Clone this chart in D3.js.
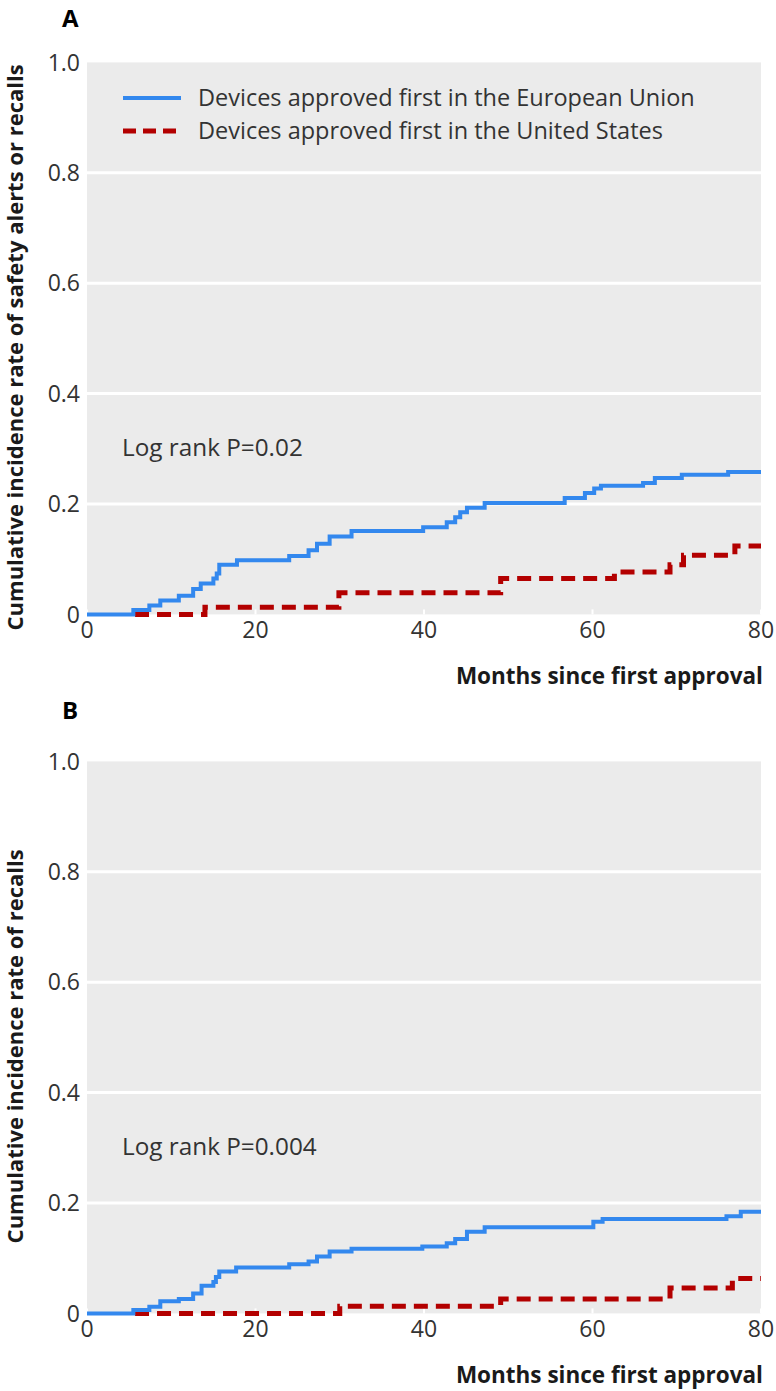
<!DOCTYPE html>
<html>
<head>
<meta charset="utf-8">
<script src="https://cdn.jsdelivr.net/npm/d3@7"></script>
<style>
  html, body { margin: 0; padding: 0; background: #ffffff; }
  svg { display: block; }
  text { font-family: "Open Sans", "Noto Sans", sans-serif; }
</style>
</head>
<body>
<svg id="chart" width="776" height="1391"></svg>
<script>
// ---------- data ----------
const xTicks = [0, 20, 40, 60, 80];
const yTicks = [0, 0.2, 0.4, 0.6, 0.8, 1.0];
const yTickLabels = ["0", "0.2", "0.4", "0.6", "0.8", "1.0"];
const seriesNames = ["Devices approved first in the European Union", "Devices approved first in the United States"];

// Panel A: safety alerts or recalls
const aEuMonths = [0, 5.5, 7.4, 8.7, 10.9, 12.6, 13.5, 15.0, 15.4, 15.7, 17.8, 24.0, 26.3, 27.3, 28.8, 31.4, 39.9, 42.7, 43.7, 44.3, 45.1, 47.2, 56.7, 59.1, 60.2, 61.0, 66.0, 67.4, 70.6, 76.1, 80];
const aEuRate   = [0, 0.008, 0.016, 0.025, 0.034, 0.046, 0.056, 0.065, 0.074, 0.090, 0.098, 0.106, 0.116, 0.128, 0.141, 0.151, 0.158, 0.167, 0.176, 0.185, 0.193, 0.202, 0.211, 0.220, 0.228, 0.233, 0.238, 0.247, 0.253, 0.258, 0.258];
const aUsMonths = [5.7, 14.0, 29.9, 49.1, 62.6, 69.2, 70.8, 76.9, 80];
const aUsRate   = [0, 0.013, 0.039, 0.065, 0.077, 0.090, 0.107, 0.124, 0.124];

// Panel B: recalls
const bEuMonths = [0, 5.5, 7.4, 8.7, 10.9, 12.6, 13.6, 15.0, 15.3, 15.7, 17.7, 24.0, 26.3, 27.3, 28.8, 31.4, 39.8, 42.7, 43.7, 45.1, 47.2, 60.1, 61.2, 75.9, 77.6, 80];
const bEuRate   = [0, 0.006, 0.012, 0.022, 0.026, 0.036, 0.050, 0.057, 0.066, 0.076, 0.083, 0.089, 0.094, 0.103, 0.112, 0.117, 0.121, 0.127, 0.135, 0.148, 0.156, 0.166, 0.171, 0.176, 0.184, 0.184];
const bUsMonths = [5.7, 30.0, 49.1, 69.2, 76.6, 80];
const bUsRate   = [0, 0.013, 0.026, 0.046, 0.063, 0.063];

const panels = [
  { letter: "A", yTitle: "Cumulative incidence rate of safety alerts or recalls", pText: "Log rank P=0.02",
    eu: [aEuMonths, aEuRate], us: [aUsMonths, aUsRate], top: 62.4, letterOff: 35, legend: true },
  { letter: "B", yTitle: "Cumulative incidence rate of recalls", pText: "Log rank P=0.004",
    eu: [bEuMonths, bEuRate], us: [bUsMonths, bUsRate], top: 761.4, letterOff: 42, legend: false }
];

// ---------- drawing ----------
const svg = d3.select("#chart");
const left = 87, right = 761, plotH = 552;
const blue = "#3388ee", red = "#b30000", bg = "#ebebeb", txt = "#333333";

const x = d3.scaleLinear().domain([0, 80]).range([left, right]);

panels.forEach(p => {
  const y = d3.scaleLinear().domain([0, 1]).range([p.top + plotH, p.top]);
  const g = svg.append("g");

  g.append("rect").attr("x", left).attr("y", p.top).attr("width", right - left).attr("height", plotH).attr("fill", bg);

  g.selectAll(".grid").data(yTicks.filter(v => v > 0 && v < 1)).join("line")
    .attr("x1", left).attr("x2", right)
    .attr("y1", d => y(d)).attr("y2", d => y(d))
    .attr("stroke", "#ffffff").attr("stroke-width", 3);

  g.selectAll(".xt").data(xTicks).join("line")
    .attr("x1", d => x(d)).attr("x2", d => x(d))
    .attr("y1", y(0)).attr("y2", y(0) - 5)
    .attr("stroke", "#ffffff").attr("stroke-width", 2);

  g.selectAll(".yl").data(yTicks).join("text")
    .attr("x", 80).attr("y", d => y(d)).attr("dy", "0.36em")
    .attr("text-anchor", "end").attr("font-size", 23).attr("fill", txt)
    .text((d, i) => yTickLabels[i]);

  g.selectAll(".xl").data(xTicks).join("text")
    .attr("x", d => x(d)).attr("y", y(0) + 24)
    .attr("text-anchor", "middle").attr("font-size", 23).attr("fill", txt)
    .text(d => d);

  g.append("text").attr("x", 763).attr("y", y(0) + 70)
    .attr("text-anchor", "end").attr("font-size", 22.5).attr("font-weight", "bold").attr("fill", "#1a1a1a")
    .text("Months since first approval");

  g.append("text")
    .attr("transform", `translate(23,${p.top + plotH / 2 + 9}) rotate(-90)`)
    .attr("text-anchor", "middle").attr("font-size", 22).attr("font-weight", "bold").attr("fill", "#1a1a1a")
    .text(p.yTitle);

  g.append("text").attr("x", 62).attr("y", p.top - p.letterOff)
    .attr("font-size", 24).attr("font-weight", "bold").attr("fill", "#000")
    .text(p.letter);

  g.append("text").attr("x", 122).attr("y", y(0.4) + 62)
    .attr("font-size", 24.3).attr("fill", txt).text(p.pText);

  const line = d3.line().curve(d3.curveStepAfter).x(d => x(d[0])).y(d => y(d[1]));
  const usData = p.us[0].map((m, i) => [m, p.us[1][i]]);
  const euData = p.eu[0].map((m, i) => [m, p.eu[1][i]]);

  g.append("path").attr("d", line(usData)).attr("fill", "none")
    .attr("stroke", red).attr("stroke-width", 5).attr("stroke-dasharray", "14,8");
  g.append("path").attr("d", line(euData)).attr("fill", "none")
    .attr("stroke", blue).attr("stroke-width", 4);

  if (p.legend) {
    const items = [{ name: seriesNames[0], color: blue, dash: null, w: 4, yy: 98 },
                   { name: seriesNames[1], color: red, dash: "13,7", w: 5, yy: 131 }];
    items.forEach(it => {
      g.append("line").attr("x1", 123).attr("x2", 181).attr("y1", it.yy).attr("y2", it.yy)
        .attr("stroke", it.color).attr("stroke-width", it.w)
        .attr("stroke-dasharray", it.dash);
      g.append("text").attr("x", 198).attr("y", it.yy).attr("dy", "0.36em")
        .attr("font-size", 23.5).attr("fill", txt).text(it.name);
    });
  }
});
</script>
</body>
</html>
